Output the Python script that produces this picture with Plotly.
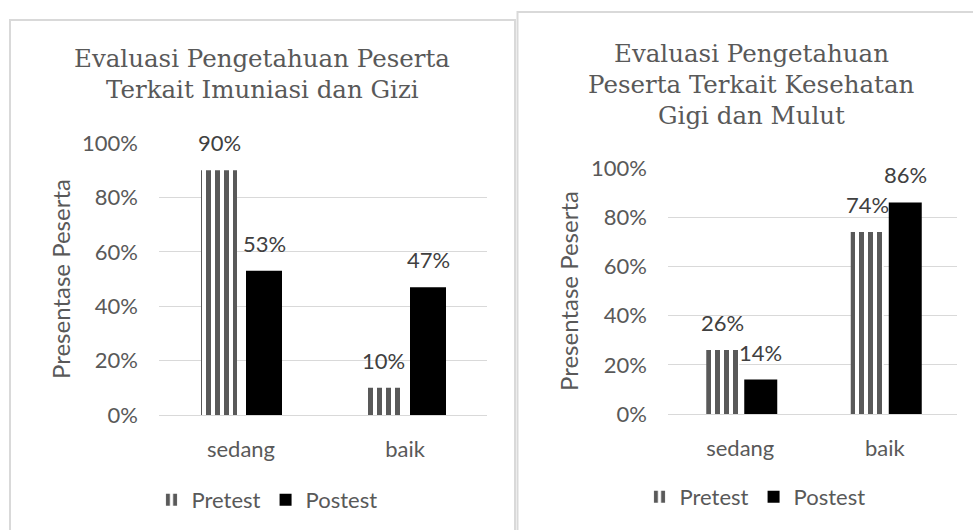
import plotly.graph_objects as go

# ---------------- data ----------------
categories = ["sedang", "baik"]
series_names = ["Pretest", "Postest"]
pretest_imunisasi = [90, 10]
postest_imunisasi = [53, 47]
pretest_gigi = [26, 74]
postest_gigi = [14, 86]
title_left = ["Evaluasi Pengetahuan Peserta", "Terkait Imuniasi dan Gizi"]
title_right = ["Evaluasi Pengetahuan", "Peserta Terkait Kesehatan", "Gigi dan Mulut"]
y_title = "Presentase Peserta"
y_ticks = [0, 20, 40, 60, 80, 100]
y_ticktext = ["0%", "20%", "40%", "60%", "80%", "100%"]

# ---------------- style ----------------
W, H = 973, 530
X = lambda px: px / W
Y = lambda py: (H - py) / H
SANS = "Lato, Calibri, sans-serif"
SERIF = "DejaVu Serif, Cambria, serif"
TXT = "#595959"
LBL = "#404040"
GRID = "#d9d9d9"
PRE_COLOR = "#595959"
POST_COLOR = "#000000"
TICK_SIZE = 22
TITLE_SIZE = 24.5

# plot areas (px)
L = dict(x0=159, x1=487, y0=415, y1=143)
R = dict(x0=668, x1=957, y0=414, y1=168)

def bar_geom(area, pre_px, post_px, width_px):
    cat_w = (area["x1"] - area["x0"]) / len(categories)
    return dict(cat_w=cat_w, width=width_px / cat_w,
                pre_off=pre_px / cat_w, post_off=post_px / cat_w,
                pre_c=pre_px + width_px / 2, post_c=post_px + width_px / 2)

GL = bar_geom(L, -40, 5, 36)
GR = bar_geom(R, -34, 4, 33)

pattern = dict(shape="|", fgcolor=PRE_COLOR, bgcolor="white", size=9,
               solidity=0.55, fillmode="replace")

fig = go.Figure()

def add_pair(pre, post, g, xa, ya, legend):
    fig.add_trace(go.Bar(x=categories, y=pre, name=series_names[0], xaxis=xa, yaxis=ya,
                         width=g["width"], offset=g["pre_off"], legend=legend,
                         marker=dict(color=PRE_COLOR, pattern=pattern, line=dict(width=0)),
                         hoverinfo="x+y"))
    fig.add_trace(go.Bar(x=categories, y=post, name=series_names[1], xaxis=xa, yaxis=ya,
                         width=g["width"], offset=g["post_off"], legend=legend,
                         marker=dict(color=POST_COLOR, line=dict(width=0)),
                         hoverinfo="x+y"))

add_pair(pretest_imunisasi, postest_imunisasi, GL, "x", "y", "legend")
add_pair(pretest_gigi, postest_gigi, GR, "x2", "y2", "legend2")

annotations = []
# data labels
for vals, g, key, xr, yr in [
    (pretest_imunisasi, GL, "pre_c", "x", "y"),
    (postest_imunisasi, GL, "post_c", "x", "y"),
    (pretest_gigi, GR, "pre_c", "x2", "y2"),
    (postest_gigi, GR, "post_c", "x2", "y2"),
]:
    for c, v in zip(categories, vals):
        annotations.append(dict(x=c, y=v, xref=xr, yref=yr, text=f"{v}%", showarrow=False,
                                xshift=g[key], yshift=12, yanchor="bottom",
                                font=dict(family=SANS, size=TICK_SIZE, color=LBL)))

# titles
for i, t in enumerate(title_left):
    annotations.append(dict(x=X(262), y=Y(59 + 31 * i), xref="paper", yref="paper", text=t,
                            showarrow=False, xanchor="center", yanchor="middle",
                            font=dict(family=SERIF, size=TITLE_SIZE, color=TXT)))
for i, t in enumerate(title_right):
    annotations.append(dict(x=X(751), y=Y(54 + 31 * i), xref="paper", yref="paper", text=t,
                            showarrow=False, xanchor="center", yanchor="middle",
                            font=dict(family=SERIF, size=TITLE_SIZE, color=TXT)))
# y axis titles
for xc, yc in [(60, 279), (568, 291)]:
    annotations.append(dict(x=X(xc), y=Y(yc), xref="paper", yref="paper", text=y_title,
                            showarrow=False, textangle=-90, xanchor="center", yanchor="middle",
                            font=dict(family=SANS, size=24, color=TXT)))

shapes = [
    dict(type="rect", xref="paper", yref="paper", x0=X(10), x1=X(515), y0=-0.1, y1=Y(20),
         line=dict(color=GRID, width=2), layer="below"),
    dict(type="rect", xref="paper", yref="paper", x0=X(517.5), x1=1.1, y0=-0.1, y1=Y(12),
         line=dict(color=GRID, width=2), layer="below"),
]

def xaxis(area):
    return dict(domain=[X(area["x0"]), X(area["x1"])], range=[-0.5, len(categories) - 0.5],
                showline=False, showgrid=False, zeroline=False, ticks="",
                ticklabelstandoff=19,
                tickfont=dict(family=SANS, size=TICK_SIZE, color=TXT), fixedrange=True)

def yaxis(area):
    return dict(domain=[Y(area["y0"]), Y(area["y1"])], range=[0, 100], tickvals=y_ticks,
                ticktext=y_ticktext, showline=False, showgrid=True, gridcolor=GRID, gridwidth=1,
                zeroline=True, zerolinecolor=GRID, zerolinewidth=1, ticks="",
                ticklabelstandoff=20,
                tickfont=dict(family=SANS, size=TICK_SIZE, color=TXT), fixedrange=True)

fig.update_layout(
    width=W, height=H, autosize=False,
    margin=dict(l=0, r=0, t=0, b=0),
    paper_bgcolor="white", plot_bgcolor="white",
    template="none",
    barmode="overlay",
    xaxis=dict(xaxis(L), anchor="y"),
    yaxis=dict(yaxis(L), anchor="x"),
    xaxis2=dict(xaxis(R), anchor="y2"),
    yaxis2=dict(yaxis(R), anchor="x2"),
    legend=dict(orientation="h", x=X(267), y=Y(500), xanchor="center", yanchor="middle",
                font=dict(family=SANS, size=TICK_SIZE, color=TXT), bgcolor="rgba(0,0,0,0)"),
    legend2=dict(orientation="h", x=X(755), y=Y(497), xanchor="center", yanchor="middle",
                 font=dict(family=SANS, size=TICK_SIZE, color=TXT), bgcolor="rgba(0,0,0,0)"),
    annotations=annotations,
    shapes=shapes,
    showlegend=True,
)

fig.write_html("out.html", config={"displayModeBar": False},
               post_script="document.body.style.margin='0px';document.body.style.overflow='hidden';")
